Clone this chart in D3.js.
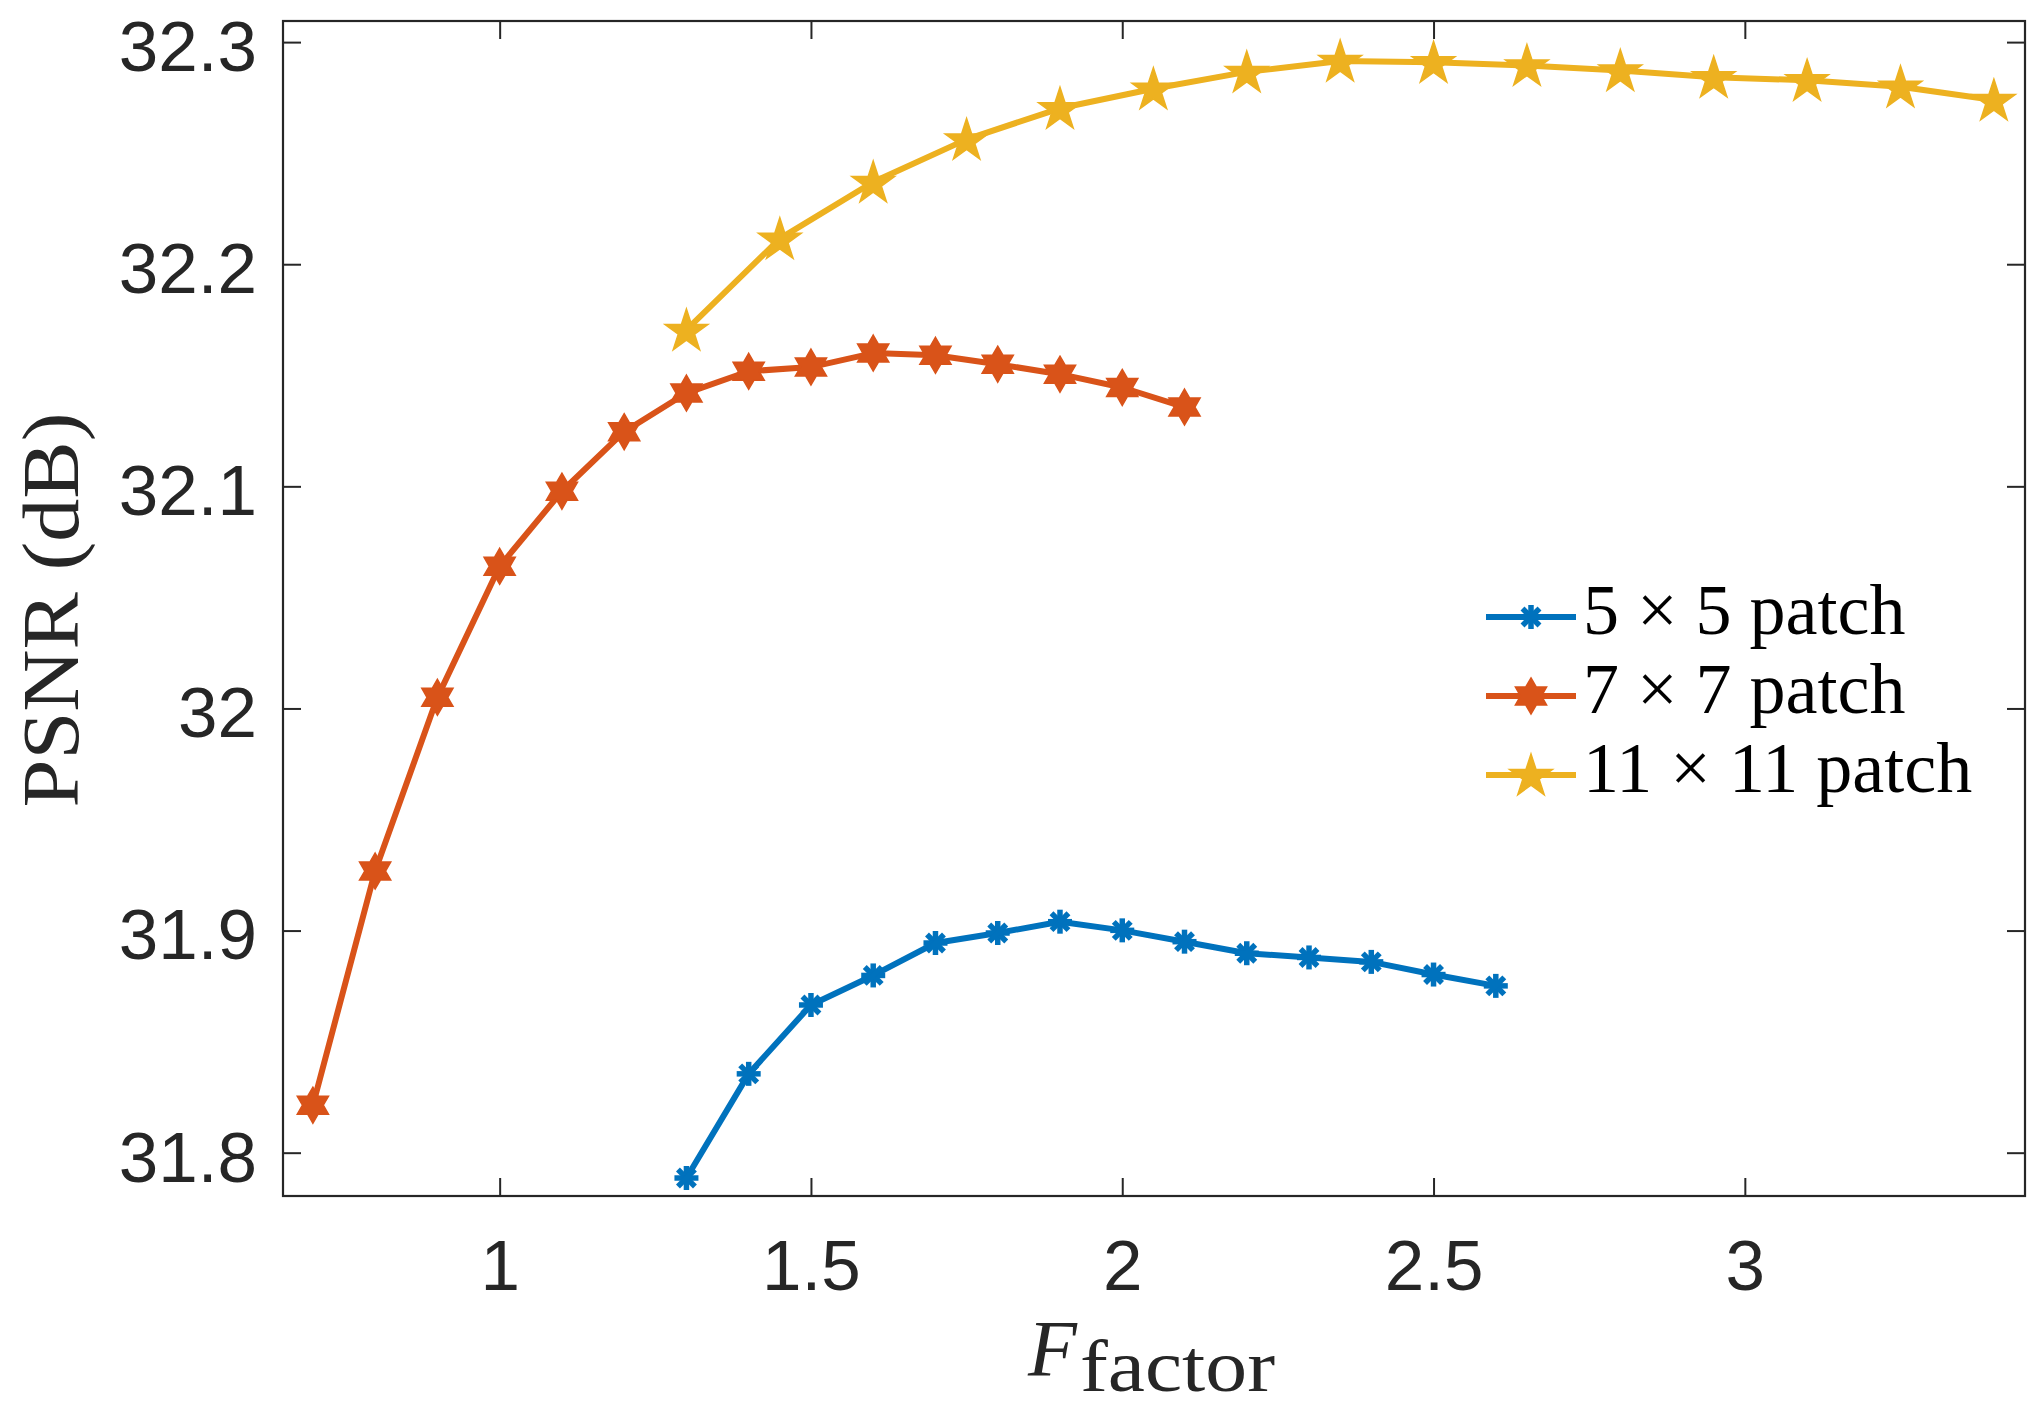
<!DOCTYPE html>
<html>
<head>
<meta charset="utf-8">
<script src="https://cdn.jsdelivr.net/npm/d3@7"></script>
<style>
  html, body { margin: 0; padding: 0; background: #fff; }
  svg { display: block; }
</style>
</head>
<body>
<svg id="chart" width="2039" height="1407"></svg>
<script>
// ---- data ----
const fBlue = [1.3, 1.4, 1.5, 1.6, 1.7, 1.8, 1.9, 2.0, 2.1, 2.2, 2.3, 2.4, 2.5, 2.6];
const psnrBlue = [31.7886, 31.8355, 31.8665, 31.8798, 31.8944, 31.8989, 31.9040, 31.9001, 31.8950, 31.8898, 31.8879, 31.8859, 31.8802, 31.8751];

const fRed = [0.7, 0.8, 0.9, 1.0, 1.1, 1.2, 1.3, 1.4, 1.5, 1.6, 1.7, 1.8, 1.9, 2.0, 2.1];
const psnrRed = [31.8214, 31.9268, 32.0050, 32.0640, 32.0978, 32.1246, 32.1420, 32.1518, 32.1537, 32.1600, 32.1590, 32.1550, 32.1505, 32.1445, 32.1357];

const fYellow = [1.3, 1.45, 1.6, 1.75, 1.9, 2.05, 2.2, 2.35, 2.5, 2.65, 2.8, 2.95, 3.1, 3.25, 3.4];
const psnrYellow = [32.1704, 32.2115, 32.2370, 32.2562, 32.2702, 32.2790, 32.2866, 32.2915, 32.2909, 32.2895, 32.2872, 32.2842, 32.2828, 32.2799, 32.2739];

const seriesNames = ["5 \u00d7 5 patch", "7 \u00d7 7 patch", "11 \u00d7 11 patch"];
const seriesColors = ["#0072BD", "#D95319", "#EDB120"];
const seriesMarkers = ["asterisk", "hexagram", "pentagram"];

const xTicks = [1, 1.5, 2, 2.5, 3];
const xTickLabels = ["1", "1.5", "2", "2.5", "3"];
const yTicks = [31.8, 31.9, 32.0, 32.1, 32.2, 32.3];
const yTickLabels = ["31.8", "31.9", "32", "32.1", "32.2", "32.3"];

const xDomain = [0.652, 3.45];
const yDomain = [31.7805, 32.3095];

// ---- layout ----
const svg = d3.select("#chart");
const L = 283, R = 2025, T = 21, B = 1196;
const x = d3.scaleLinear().domain(xDomain).range([L, R]);
const y = d3.scaleLinear().domain(yDomain).range([B, T]);
const axisColor = "#262626";
const tickFont = "'Liberation Sans', Arial, Helvetica, sans-serif";
const serif = "'Liberation Serif', 'Times New Roman', serif";

svg.append("rect").attr("width", 2039).attr("height", 1407).attr("fill", "#fff");

// ---- axes ----
function styleAxis(g) {
  g.select(".domain").remove();
  g.selectAll(".tick line").attr("stroke", axisColor).attr("stroke-width", 2);
  g.selectAll(".tick text").attr("fill", axisColor)
    .style("font-family", tickFont).style("font-size", "71px");
}
const xi = (i) => xTickLabels[xTicks.indexOf(i)];
const yi = (v) => yTickLabels[yTicks.findIndex(t => Math.abs(t - v) < 1e-9)];

svg.append("g").attr("transform", `translate(0,${B})`)
  .call(d3.axisBottom(x).tickValues(xTicks).tickFormat(xi).tickSizeInner(-18).tickSizeOuter(0).tickPadding(44))
  .call(styleAxis);
svg.append("g").attr("transform", `translate(0,${T})`)
  .call(d3.axisTop(x).tickValues(xTicks).tickFormat("").tickSizeInner(-18).tickSizeOuter(0))
  .call(styleAxis);
const gy = svg.append("g").attr("transform", `translate(${L},0)`)
  .call(d3.axisLeft(y).tickValues(yTicks).tickFormat(yi).tickSizeInner(-18).tickSizeOuter(0).tickPadding(26))
  .call(styleAxis);
gy.selectAll(".tick text").attr("dy", "0.4em");
svg.append("g").attr("transform", `translate(${R},0)`)
  .call(d3.axisRight(y).tickValues(yTicks).tickFormat("").tickSizeInner(-18).tickSizeOuter(0))
  .call(styleAxis);

svg.append("rect").attr("x", L).attr("y", T).attr("width", R - L).attr("height", B - T)
  .attr("fill", "none").attr("stroke", axisColor).attr("stroke-width", 2.2);

// ---- markers ----
function starPath(n, rOut, rIn, rot) {
  const pts = [];
  for (let k = 0; k < 2 * n; k++) {
    const a = rot + k * Math.PI / n;
    const r = k % 2 === 0 ? rOut : rIn;
    pts.push([r * Math.cos(a), r * Math.sin(a)]);
  }
  return "M" + pts.map(p => p[0].toFixed(2) + "," + p[1].toFixed(2)).join("L") + "Z";
}
function drawMarker(g, type, color, cx, cy) {
  if (type === "asterisk") {
    const r = 12;
    const m = g.append("g").attr("transform", `translate(${cx},${cy})`);
    for (let k = 0; k < 4; k++) {
      const a = k * Math.PI / 4;
      m.append("line")
        .attr("x1", -r * Math.sin(a)).attr("y1", -r * Math.cos(a))
        .attr("x2", r * Math.sin(a)).attr("y2", r * Math.cos(a))
        .attr("stroke", color).attr("stroke-width", 5.5);
    }
  } else if (type === "hexagram") {
    g.append("path").attr("d", starPath(6, 18, 18 / Math.sqrt(3), -Math.PI / 2))
      .attr("transform", `translate(${cx},${cy})`).attr("fill", color).attr("stroke", color).attr("stroke-width", 1.5);
  } else {
    g.append("path").attr("d", starPath(5, 22.5, 22.5 * 0.382, -Math.PI / 2))
      .attr("transform", `translate(${cx},${cy + 1.5})`).attr("fill", color).attr("stroke", color).attr("stroke-width", 1.5);
  }
}

// ---- series ----
const series = [
  { xs: fBlue, ys: psnrBlue },
  { xs: fRed, ys: psnrRed },
  { xs: fYellow, ys: psnrYellow }
];
const line = d3.line().x(d => x(d[0])).y(d => y(d[1]));
series.forEach((s, i) => {
  const pts = s.xs.map((v, j) => [v, s.ys[j]]);
  const g = svg.append("g");
  g.append("path").datum(pts).attr("d", line)
    .attr("fill", "none").attr("stroke", seriesColors[i]).attr("stroke-width", 6)
    .attr("stroke-linejoin", "round");
  pts.forEach(p => drawMarker(g, seriesMarkers[i], seriesColors[i], x(p[0]), y(p[1])));
});

// ---- legend ----
const legY = [617, 696, 775];
seriesNames.forEach((name, i) => {
  const g = svg.append("g");
  g.append("line").attr("x1", 1486).attr("x2", 1576).attr("y1", legY[i]).attr("y2", legY[i])
    .attr("stroke", seriesColors[i]).attr("stroke-width", 6);
  drawMarker(g, seriesMarkers[i], seriesColors[i], 1531, legY[i]);
  g.append("text").attr("x", 1583).attr("y", legY[i] + 17)
    .style("font-family", serif).style("font-size", "72px").attr("fill", "#000")
    .text(name);
});

// ---- axis labels ----
svg.append("text").attr("x", 1028).attr("y", 1376)
  .style("font-family", serif).style("font-style", "italic").style("font-size", "80px")
  .attr("fill", axisColor).text("F");
svg.append("text").attr("x", 1080).attr("y", 1391)
  .style("font-family", serif).style("font-size", "74px")
  .attr("textLength", 195).attr("lengthAdjust", "spacingAndGlyphs")
  .attr("fill", axisColor).text("factor");

svg.append("text").attr("transform", "translate(78,610) rotate(-90)")
  .attr("text-anchor", "middle")
  .style("font-family", serif).style("font-size", "80px")
  .attr("textLength", 395).attr("lengthAdjust", "spacingAndGlyphs")
  .attr("fill", axisColor).text("PSNR (dB)");
</script>
</body>
</html>
